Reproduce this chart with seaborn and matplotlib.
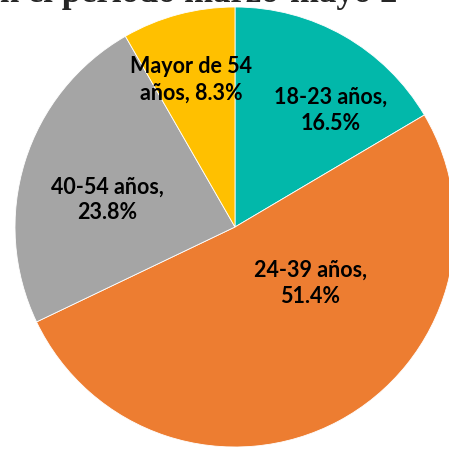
import matplotlib
matplotlib.use("Agg")
import matplotlib.pyplot as plt
import seaborn as sns

# data
groups = ["18-23 años", "24-39 años", "40-54 años", "Mayor de 54 años"]
shares = [16.5, 51.4, 23.8, 8.3]
label_texts = ["18-23 años,\n16.5%", "24-39 años,\n51.4%", "40-54 años,\n23.8%", "Mayor de 54\naños, 8.3%"]
colors = ["#02B8AA", "#ED7D31", "#A5A5A5", "#FFC000"]

# label centres in pie units (radius = 1)
label_xy = [(0.436, 0.532), (0.341, -0.255), (-0.582, 0.123), (-0.200, 0.668)]

sns.set_theme(style="white")
plt.rcParams["font.family"] = ["Lato", "DejaVu Sans"]

fig = plt.figure(figsize=(4.49, 4.5), dpi=100)
ax = fig.add_axes([15 / 449, 3 / 450, 440 / 449, 440 / 450])

ax.pie(
    shares,
    colors=sns.color_palette(colors),
    startangle=90,
    counterclock=False,
    wedgeprops=dict(edgecolor="white", linewidth=0.6),
)
ax.set_xlim(-1, 1)
ax.set_ylim(-1, 1)
ax.set_aspect("equal")
ax.axis("off")

for (x, y), txt in zip(label_xy, label_texts):
    ax.text(x, y, txt, ha="center", va="center", fontsize=15.5,
            fontweight="bold", color="black", linespacing=1.3)

# title, mostly cut off at the top of the picture
fig.text(0.0, 1 - 2.5 / 450, "n el período marzo-mayo 2", ha="left", va="baseline",
         fontsize=25, fontweight="bold", family=["Liberation Serif", "DejaVu Serif"])

fig.savefig("out.png", dpi=100)
plt.close(fig)
